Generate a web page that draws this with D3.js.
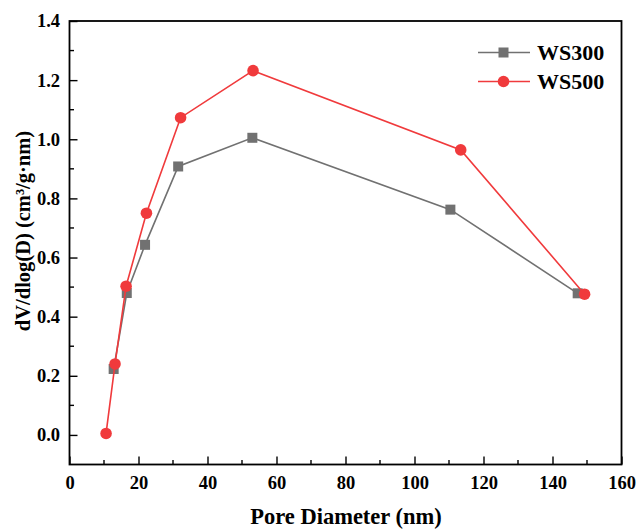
<!DOCTYPE html>
<html><head><meta charset="utf-8">
<script src="https://cdn.jsdelivr.net/npm/d3@7"></script>
<style>body{margin:0;background:#fff}svg{display:block}text{font-family:"Liberation Serif","Times New Roman",serif;font-weight:bold}</style>
</head><body>
<script>
const ws300X = [12.8, 16.6, 21.9, 31.5, 53.0, 110.4, 147.3];
const ws300Y = [0.223, 0.48, 0.643, 0.908, 1.005, 0.762, 0.479];
const ws500X = [10.6, 13.2, 16.4, 22.3, 32.2, 53.2, 113.4, 149.3];
const ws500Y = [0.005, 0.240, 0.503, 0.750, 1.073, 1.232, 0.964, 0.476];
const xTicks = [0, 20, 40, 60, 80, 100, 120, 140, 160];
const yTicks = [0.0, 0.2, 0.4, 0.6, 0.8, 1.0, 1.2, 1.4];
const seriesNames = ["WS300", "WS500"];
const colors = ["#717171", "#f03a3c"];

const W = 636, H = 529;
const m = {l: 69.5, r: 621.5, t: 21, b: 464.5};
const svg = d3.select("body").append("svg").attr("width", W).attr("height", H);
const x = d3.scaleLinear().domain([0, 160]).range([m.l, m.r]);
const y = d3.scaleLinear().domain([-0.1, 1.4]).range([m.b, m.t]);

// minor ticks
const xMinor = d3.range(10, 160, 20);
const yMinor = d3.range(-0.1, 1.4, 0.2).map(v => +v.toFixed(2)).filter(v => v > -0.1);
svg.append("g").selectAll("line").data(xMinor).join("line")
  .attr("x1", d => x(d)).attr("x2", d => x(d)).attr("y1", m.b).attr("y2", m.b - 4.5)
  .attr("stroke", "#000").attr("stroke-width", 1.4);
svg.append("g").selectAll("line").data(yMinor).join("line")
  .attr("y1", d => y(d)).attr("y2", d => y(d)).attr("x1", m.l).attr("x2", m.l + 4.5)
  .attr("stroke", "#000").attr("stroke-width", 1.4);

const xAxis = svg.append("g").attr("transform", `translate(0,${m.b})`)
  .call(d3.axisBottom(x).tickValues(xTicks).tickSize(-8).tickPadding(11).tickFormat(d3.format("d")));
const yAxis = svg.append("g").attr("transform", `translate(${m.l},0)`)
  .call(d3.axisLeft(y).tickValues(yTicks).tickSize(-8).tickPadding(9.5).tickFormat(d3.format(".1f")));
[xAxis, yAxis].forEach(a => {
  a.attr("font-family", null);
  a.select(".domain").remove();
  a.selectAll(".tick line").attr("stroke", "#000").attr("stroke-width", 1.4);
  a.selectAll(".tick text").attr("font-size", 18.5).attr("fill", "#000")
   .style("font-family", '"Liberation Serif","Times New Roman",serif').style("font-weight", "bold");
});

svg.append("rect").attr("x", m.l).attr("y", m.t).attr("width", m.r - m.l).attr("height", m.b - m.t)
  .attr("fill", "none").attr("stroke", "#000").attr("stroke-width", 1.8);

const line = d3.line().x(d => x(d[0])).y(d => y(d[1]));
const d300 = ws300X.map((v, i) => [v, ws300Y[i]]);
const d500 = ws500X.map((v, i) => [v, ws500Y[i]]);

svg.append("path").datum(d300).attr("d", line).attr("fill", "none").attr("stroke", colors[0]).attr("stroke-width", 1.6);
svg.append("g").selectAll("rect").data(d300).join("rect")
  .attr("x", d => x(d[0]) - 5).attr("y", d => y(d[1]) - 5).attr("width", 10).attr("height", 10).attr("fill", colors[0]);
svg.append("path").datum(d500).attr("d", line).attr("fill", "none").attr("stroke", colors[1]).attr("stroke-width", 1.6);
svg.append("g").selectAll("circle").data(d500).join("circle")
  .attr("cx", d => x(d[0])).attr("cy", d => y(d[1])).attr("r", 5.8).attr("fill", colors[1]);

// legend
const lg = svg.append("g");
seriesNames.forEach((n, i) => {
  const ly = 52.5 + i * 29;
  lg.append("line").attr("x1", 478).attr("x2", 530).attr("y1", ly).attr("y2", ly).attr("stroke", colors[i]).attr("stroke-width", 1.6);
  if (i === 0) lg.append("rect").attr("x", 498.5).attr("y", ly - 5).attr("width", 10).attr("height", 10).attr("fill", colors[i]);
  else lg.append("circle").attr("cx", 503.5).attr("cy", ly).attr("r", 5.8).attr("fill", colors[i]);
  lg.append("text").attr("x", 537).attr("y", ly + 7.5).attr("font-size", 22).attr("fill", "#000").text(n);
});

svg.append("text").attr("x", 346).attr("y", 523.5).attr("text-anchor", "middle")
  .attr("font-size", 22.5).text("Pore Diameter (nm)");
svg.append("text").attr("transform", "translate(30,231) rotate(-90)").attr("text-anchor", "middle")
  .attr("font-size", 20.5).text("dV/dlog(D) (cm³/g·nm)");
</script>
</body></html>
